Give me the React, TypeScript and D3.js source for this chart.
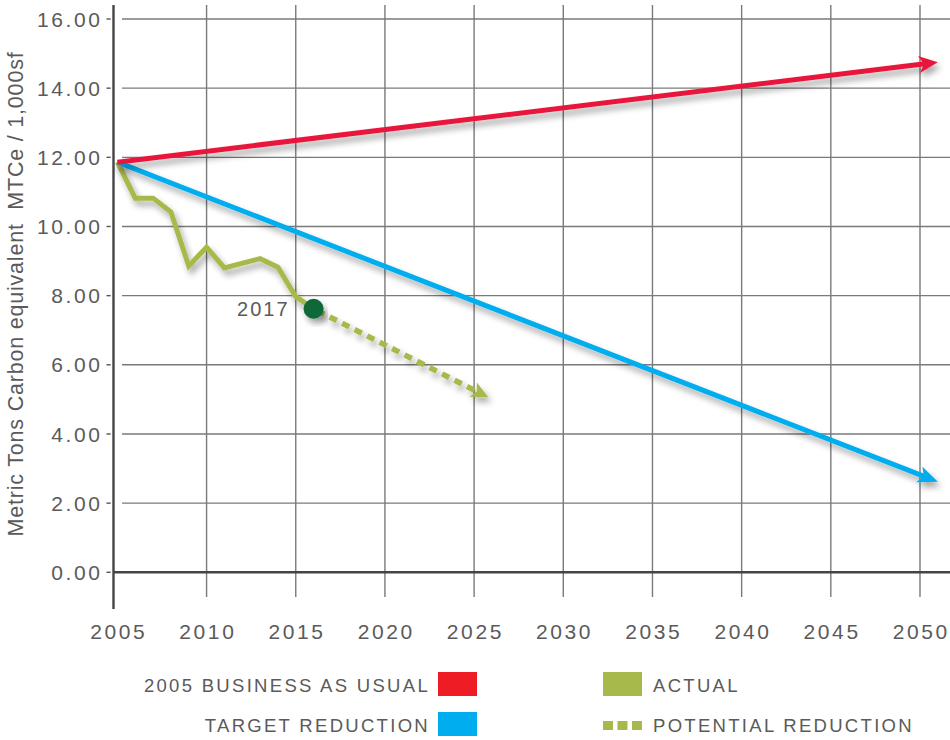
import React from "react";
import * as d3 from "d3";

const yTicks = [0, 2, 4, 6, 8, 10, 12, 14, 16];
const xTicks = [2005, 2010, 2015, 2020, 2025, 2030, 2035, 2040, 2045, 2050];

const bauYears = [2005, 2051];
const bauValues = [11.86, 14.75];

const targetYears = [2005, 2051];
const targetValues = [11.86, 2.62];

const actualYears = [2005, 2006, 2007, 2008, 2009, 2010, 2011, 2013, 2014, 2015, 2016];
const actualValues = [11.86, 10.82, 10.82, 10.42, 8.86, 9.4, 8.8, 9.07, 8.82, 7.97, 7.62];

const potentialYears = [2016, 2025.8];
const potentialValues = [7.62, 5.06];

const markerYear = 2016;
const markerValue = 7.62;
const markerLabel = "2017";

const yTitle = "Metric Tons Carbon equivalent  MTCe / 1,000sf";

const legendItems = [
  { label: "2005 BUSINESS AS USUAL", color: "#ee1c25", kind: "box", side: "left" },
  { label: "TARGET REDUCTION", color: "#00aeef", kind: "box", side: "left" },
  { label: "ACTUAL", color: "#a6b94a", kind: "box", side: "right" },
  { label: "POTENTIAL REDUCTION", color: "#a6b94a", kind: "dash", side: "right" },
];

const RED = "#e8193c";
const BLUE = "#00aeef";
const GREEN = "#a6b94a";
const DARKGREEN = "#0e6a38";
const TEXT = "#5a5a5a";
const FONT = "'Liberation Sans', Arial, Helvetica, sans-serif";

const x = d3.scaleLinear().domain([2005, 2050]).range([117.4, 920]);
const y = d3.scaleLinear().domain([0, 16]).range([572.3, 19]);

type P = [number, number];

function toPts(xs: number[], vs: number[]): P[] {
  return xs.map((yr, i) => [x(yr), y(vs[i])] as P);
}

function arrow(pts: P[], L: number, W: number, notch: number) {
  const tip = pts[pts.length - 1];
  const prev = pts[pts.length - 2];
  const dx = tip[0] - prev[0];
  const dy = tip[1] - prev[1];
  const len = Math.hypot(dx, dy);
  const ux = dx / len, uy = dy / len;
  const nx = -uy, ny = ux;
  const baseInner: P = [tip[0] - (L - notch) * ux, tip[1] - (L - notch) * uy];
  const b1: P = [tip[0] - L * ux + W * nx, tip[1] - L * uy + W * ny];
  const b2: P = [tip[0] - L * ux - W * nx, tip[1] - L * uy - W * ny];
  const linePts = pts.slice(0, -1).concat([[baseInner[0] + ux * 1, baseInner[1] + uy * 1]]);
  const head = `M${tip[0]},${tip[1]}L${b1[0]},${b1[1]}L${baseInner[0]},${baseInner[1]}L${b2[0]},${b2[1]}Z`;
  return { linePts, head };
}

const lineGen = d3.line<P>().x((d) => d[0]).y((d) => d[1]);

export default function App() {
  const bau = arrow(toPts(bauYears, bauValues), 19, 8.5, 5);
  const target = arrow(toPts(targetYears, targetValues), 20, 8.5, 5);
  const potential = arrow(toPts(potentialYears, potentialValues), 17, 8, 4);
  const actualPts = toPts(actualYears, actualValues);

  const axisX = 113.5;

  return (
    <svg
      width={950}
      height={740}
      style={{ position: "absolute", left: 0, top: 0, background: "#fff" }}
      fontFamily={FONT}
    >
      <defs>
        <filter id="shadow" x="-20%" y="-20%" width="140%" height="160%">
          <feDropShadow dx="3" dy="5" stdDeviation="3" floodColor="#000" floodOpacity="0.35" />
        </filter>
      </defs>

      {/* vertical gridlines */}
      {xTicks.filter((t) => t !== 2005).map((t) => (
        <line key={"vx" + t} x1={x(t)} x2={x(t)} y1={5} y2={597} stroke="#7a7a7a" strokeWidth={1.4} />
      ))}
      {/* horizontal gridlines */}
      {yTicks.filter((t) => t !== 0).map((t) => (
        <line key={"hy" + t} x1={122} x2={950} y1={y(t)} y2={y(t)} stroke="#7a7a7a" strokeWidth={1.4} />
      ))}
      {/* zero line */}
      <line x1={axisX} x2={950} y1={y(0)} y2={y(0)} stroke="#444" strokeWidth={2.4} />
      {/* y axis */}
      <line x1={axisX} x2={axisX} y1={5} y2={609} stroke="#444" strokeWidth={2.4} />
      {/* y ticks */}
      {yTicks.map((t) => (
        <g key={"yt" + t}>
          <line x1={106.5} x2={110.7} y1={y(t)} y2={y(t)} stroke="#555" strokeWidth={1.4} />
          <text
            x={102.5}
            y={y(t)}
            dy="0.36em"
            textAnchor="end"
            fontSize={21}
            letterSpacing={2.6}
            fill={TEXT}
          >
            {t.toFixed(2)}
          </text>
        </g>
      ))}
      {/* x labels */}
      {xTicks.map((t) => (
        <text
          key={"xl" + t}
          x={x(t) + 1.3}
          y={639}
          textAnchor="middle"
          fontSize={21}
          letterSpacing={2.6}
          fill={TEXT}
        >
          {t}
        </text>
      ))}

      {/* y title */}
      <text
        transform={`translate(23,294) rotate(-90)`}
        textAnchor="middle"
        fontSize={21.5}
        letterSpacing={0.8}
        fill={TEXT}
        style={{ whiteSpace: "pre" }}
      >
        {yTitle}
      </text>

      {/* series */}
      <g filter="url(#shadow)">
        <path d={lineGen(actualPts) || ""} fill="none" stroke={GREEN} strokeWidth={5} strokeLinejoin="miter" />
      </g>
      <g filter="url(#shadow)">
        <path d={lineGen(target.linePts) || ""} fill="none" stroke={BLUE} strokeWidth={5} />
        <path d={target.head} fill={BLUE} />
      </g>
      <g filter="url(#shadow)">
        <path d={lineGen(bau.linePts) || ""} fill="none" stroke={RED} strokeWidth={5} />
        <path d={bau.head} fill={RED} />
      </g>
      <g filter="url(#shadow)">
        <path
          d={lineGen(potential.linePts) || ""}
          fill="none"
          stroke={GREEN}
          strokeWidth={5.5}
          strokeDasharray="8 6"
          strokeDashoffset={-4}
        />
        <path d={potential.head} fill={GREEN} />
      </g>
      <g filter="url(#shadow)">
        <circle cx={x(markerYear)} cy={y(markerValue)} r={10} fill={DARKGREEN} />
      </g>
      <text
        x={x(markerYear) - 24}
        y={y(markerValue)}
        dy="0.36em"
        textAnchor="end"
        fontSize={20}
        letterSpacing={2}
        fill={TEXT}
      >
        {markerLabel}
      </text>

      {/* legend */}
      {legendItems.map((it, i) => {
        const row = i % 2;
        const cy = row === 0 ? 684 : 724;
        if (it.side === "left") {
          return (
            <g key={"lg" + i}>
              <text x={430} y={cy + 8} textAnchor="end" fontSize={18.5} letterSpacing={2.3} fill={TEXT}>
                {it.label}
              </text>
              <rect x={438} y={cy - 12} width={39} height={24} fill={it.color} />
            </g>
          );
        }
        return (
          <g key={"lg" + i}>
            {it.kind === "box" ? (
              <rect x={603} y={cy - 12} width={39} height={24} fill={it.color} />
            ) : (
              [0, 1, 2].map((k) => (
                <rect key={k} x={603 + k * 14.5} y={cy - 3} width={10} height={9} fill={it.color} />
              ))
            )}
            <text x={653} y={cy + 8} fontSize={18.5} letterSpacing={2.3} fill={TEXT}>
              {it.label}
            </text>
          </g>
        );
      })}
    </svg>
  );
}
